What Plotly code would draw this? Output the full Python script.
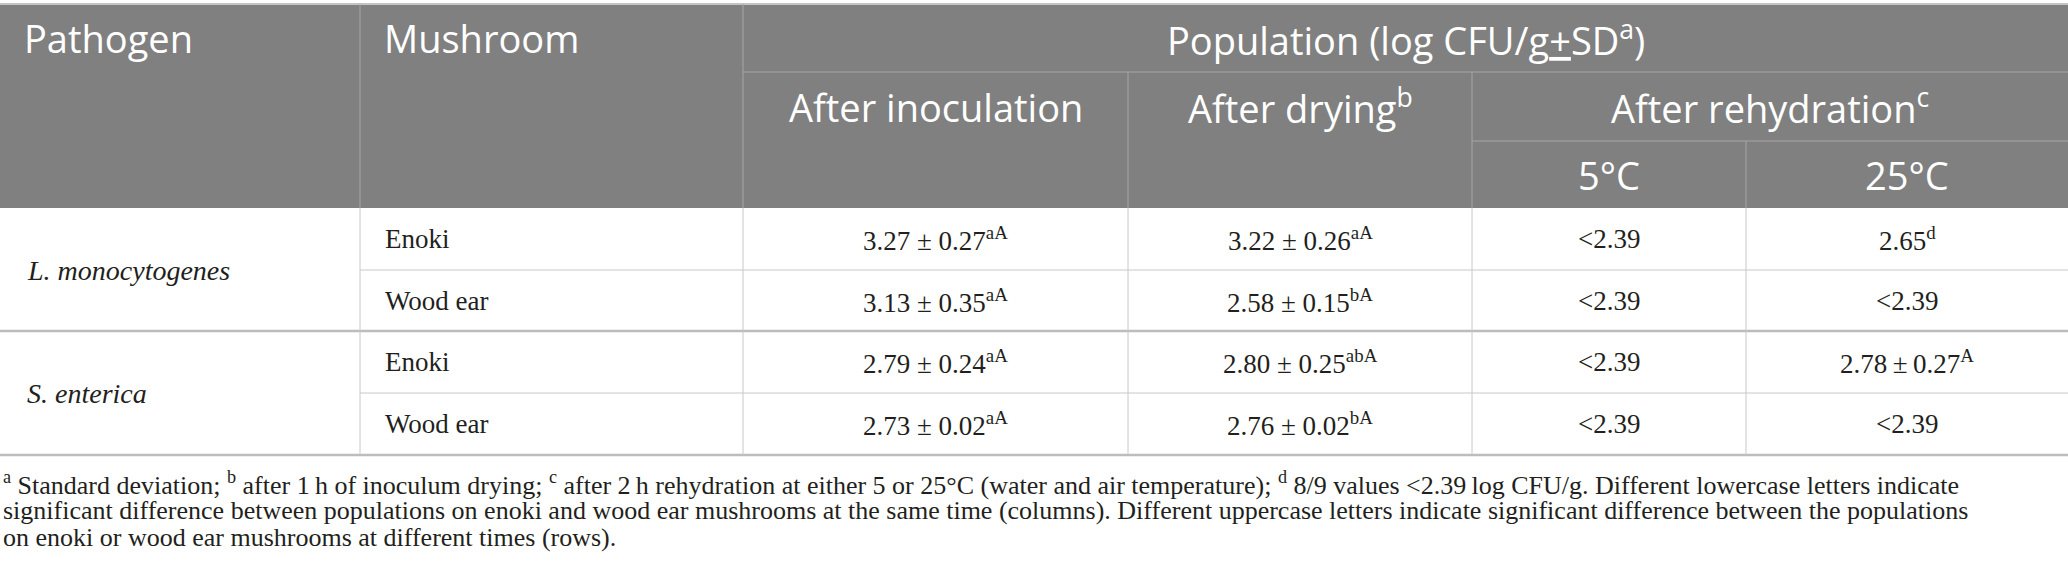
import plotly.graph_objects as go

# ---------------- datos de la tabla ----------------
pathogens = ["L. monocytogenes", "S. enterica"]
mushrooms = ["Enoki", "Wood ear", "Enoki", "Wood ear"]

inoc_mean = [3.27, 3.13, 2.79, 2.73]
inoc_sd = [0.27, 0.35, 0.24, 0.02]
inoc_sig = ["aA", "aA", "aA", "aA"]

dry_mean = [3.22, 2.58, 2.80, 2.76]
dry_sd = [0.26, 0.15, 0.25, 0.02]
dry_sig = ["aA", "bA", "abA", "bA"]

rehyd_5c = ["&lt;2.39", "&lt;2.39", "&lt;2.39", "&lt;2.39"]
rehyd_25c = ["2.65<sup>d</sup>", "&lt;2.39", "2.78\u2009±\u20090.27<sup>A</sup>", "&lt;2.39"]

header_top = ["Pathogen", "Mushroom", "Population (log CFU/g<u>+</u>SD<sup>a</sup>)"]
header_mid = ["After inoculation", "After drying<sup>b</sup>", "After rehydration<sup>c</sup>"]
header_low = ["5°C", "25°C"]

footnote = [
    "<sup>a</sup> Standard deviation; <sup>b</sup> after 1\u2009h of inoculum drying; "
    "<sup>c</sup> after 2\u2009h rehydration at either 5 or 25°C (water and air temperature); "
    "<sup>d</sup> 8/9 values &lt;2.39\u2009log CFU/g. Different lowercase letters indicate",
    "significant difference between populations on enoki and wood ear mushrooms at the same time "
    "(columns). Different uppercase letters indicate significant difference between the populations",
    "on enoki or wood ear mushrooms at different times (rows).",
]

# ---------------- geometría (px) ----------------
W, H = 2068, 582
col_x = [0, 360, 743, 1128, 1472, 1746, 2068]
head_y = [4, 72, 141, 208]
row_y = [208, 270, 331, 393, 455]
foot_y = [483, 510, 537]

HEAD_BG = "#808080"
HEAD_LINE = "#a6a6a6"
BODY_LINE = "#c8c8c8"
GROUP_LINE = "#bcbcbc"
INK = "#231f20"
SANS = "Open Sans"
SERIF = "Liberation Serif"

fig = go.Figure()
shapes = []
annots = []


def line(x0, y0, x1, y1, color, width=1):
    shapes.append(dict(type="line", xref="x", yref="y", x0=x0, y0=y0, x1=x1, y1=y1,
                       line=dict(color=color, width=width), layer="above"))


def text(x, y, s, size, color, family, anchor="center", italic=False):
    if italic:
        s = "<i>" + s + "</i>"
    annots.append(dict(x=x, y=y, xref="x", yref="y", text=s, showarrow=False,
                       xanchor=anchor, yanchor="middle",
                       font=dict(size=size, color=color, family=family)))


def mid(a, b):
    return (a + b) / 2


# ---------------- cabecera ----------------
shapes.append(dict(type="rect", xref="x", yref="y", x0=0, y0=head_y[0], x1=W, y1=head_y[3],
                   fillcolor=HEAD_BG, line=dict(width=0), layer="below"))
line(0, head_y[0], W, head_y[0], "#c4c4c4", 2)
line(col_x[2], head_y[1], W, head_y[1], HEAD_LINE)
line(col_x[4], head_y[2], W, head_y[2], HEAD_LINE)
for cx in col_x[1:3]:
    line(cx, head_y[0], cx, head_y[3], HEAD_LINE)
for cx in col_x[3:5]:
    line(cx, head_y[1], cx, head_y[3], HEAD_LINE)
line(col_x[5], head_y[2], col_x[5], head_y[3], HEAD_LINE)

HS = 38
text(col_x[0] + 22, mid(head_y[0], head_y[1]), header_top[0], HS, "white", SANS, "left")
text(col_x[1] + 22, mid(head_y[0], head_y[1]), header_top[1], HS, "white", SANS, "left")
text(mid(col_x[2], W), mid(head_y[0], head_y[1]), header_top[2], HS, "white", SANS)
text(mid(col_x[2], col_x[3]), mid(head_y[1], head_y[2]), header_mid[0], HS, "white", SANS)
text(mid(col_x[3], col_x[4]), mid(head_y[1], head_y[2]), header_mid[1], HS, "white", SANS)
text(mid(col_x[4], W), mid(head_y[1], head_y[2]), header_mid[2], HS, "white", SANS)
text(mid(col_x[4], col_x[5]), mid(head_y[2], head_y[3]), header_low[0], HS, "white", SANS)
text(mid(col_x[5], W), mid(head_y[2], head_y[3]), header_low[1], HS, "white", SANS)

# ---------------- cuerpo ----------------
for i in (1, 3):
    line(col_x[1], row_y[i], W, row_y[i], BODY_LINE)
for i in (2, 4):
    line(0, row_y[i], W, row_y[i], GROUP_LINE, 2.5)
for cx in col_x[1:6]:
    line(cx, row_y[0], cx, row_y[4], BODY_LINE)

BS = 27
for g, name in enumerate(pathogens):
    text(col_x[0] + 25, row_y[2 * g + 1], name, BS + 1, INK, SERIF, "left", italic=True)

for r in range(len(mushrooms)):
    yc = mid(row_y[r], row_y[r + 1])
    text(col_x[1] + 23, yc, mushrooms[r], BS, INK, SERIF, "left")
    text(mid(col_x[2], col_x[3]), yc,
         f"{inoc_mean[r]:.2f} ± {inoc_sd[r]:.2f}<sup>{inoc_sig[r]}</sup>", BS, INK, SERIF)
    text(mid(col_x[3], col_x[4]), yc,
         f"{dry_mean[r]:.2f} ± {dry_sd[r]:.2f}<sup>{dry_sig[r]}</sup>", BS, INK, SERIF)
    text(mid(col_x[4], col_x[5]), yc, rehyd_5c[r], BS, INK, SERIF)
    text(mid(col_x[5], W), yc, rehyd_25c[r], BS, INK, SERIF)

# ---------------- notas al pie ----------------
for k, s in enumerate(footnote):
    text(1, foot_y[k], s, 26, INK, SERIF, "left")

fig.update_layout(
    width=W, height=H,
    margin=dict(l=0, r=0, t=0, b=0),
    paper_bgcolor="white", plot_bgcolor="white",
    xaxis=dict(range=[0, W], visible=False, fixedrange=True),
    yaxis=dict(range=[H, 0], visible=False, fixedrange=True),
    shapes=shapes, annotations=annots,
    showlegend=False,
)

fig.write_html("out.html", config={"displayModeBar": False},
               post_script="document.body.style.margin='0';")
